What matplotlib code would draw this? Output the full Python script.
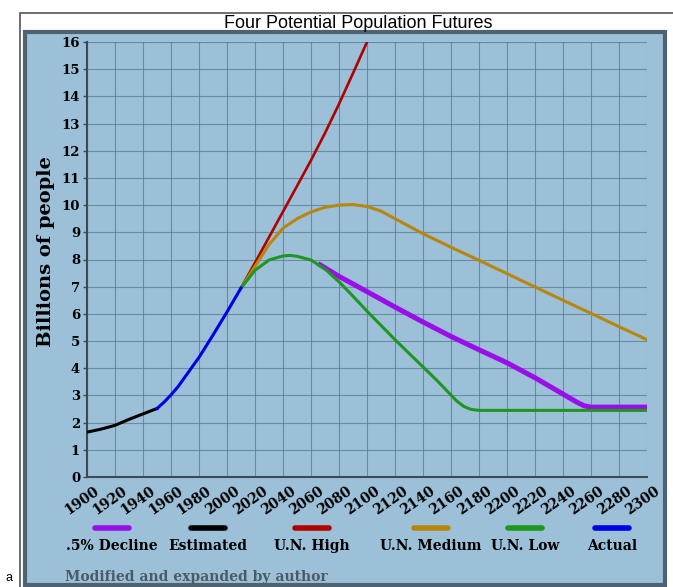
import matplotlib
matplotlib.use("Agg")
import matplotlib.pyplot as plt
from matplotlib.patches import Rectangle
from matplotlib.lines import Line2D
from matplotlib.transforms import ScaledTranslation

# Estimated (black)
est_years = [1900, 1910, 1920, 1930, 1940, 1950]
est_vals = [1.65, 1.76, 1.90, 2.12, 2.32, 2.52]

# Actual (blue)
act_years = [1950, 1955, 1960, 1965, 1970, 1980, 1990, 2000, 2010]
act_vals = [2.52, 2.75, 3.02, 3.32, 3.68, 4.40, 5.22, 6.07, 6.95]

# U.N. High (red)
high_years = [2010, 2020, 2030, 2040, 2050, 2060, 2070, 2080, 2090, 2100, 2110]
high_vals = [6.95, 7.88, 8.82, 9.76, 10.70, 11.65, 12.65, 13.72, 14.85, 16.00, 17.20]

# U.N. Medium (gold)
med_years = [2010, 2020, 2030, 2040, 2050, 2060, 2070, 2080, 2090, 2100, 2110,
             2120, 2140, 2160, 2180, 2200, 2220, 2240, 2260, 2280, 2300]
med_vals = [6.95, 7.75, 8.55, 9.15, 9.50, 9.75, 9.92, 10.00, 10.02, 9.95, 9.78,
            9.50, 8.95, 8.45, 7.97, 7.48, 6.99, 6.50, 6.02, 5.53, 5.05]

# U.N. Low (green)
low_years = [2010, 2020, 2030, 2040, 2045, 2050, 2060, 2070, 2080, 2090, 2100,
             2120, 2140, 2150, 2158, 2164, 2169, 2174, 2180, 2300]
low_vals = [6.95, 7.60, 7.98, 8.13, 8.15, 8.12, 7.98, 7.65, 7.18, 6.65, 6.10,
            5.05, 4.05, 3.55, 3.12, 2.80, 2.60, 2.49, 2.45, 2.45]

# .5% Decline (purple)
dec_years = [2065, 2080, 2100, 2120, 2140, 2160, 2180, 2200, 2220, 2240, 2250, 2255, 2260, 2300]
dec_vals = [7.85, 7.38, 6.82, 6.25, 5.70, 5.17, 4.68, 4.20, 3.65, 3.05, 2.75, 2.62, 2.57, 2.57]

legend_names = [".5% Decline", "Estimated", "U.N. High", "U.N. Medium", "U.N. Low", "Actual"]
legend_colors = ["#9a0ee8", "#000000", "#b00000", "#b8860b", "#1f961f", "#0000e6"]
legend_x = [112, 208, 312, 431, 525, 612]  # pixel centres

W, H = 673, 587
fig = plt.figure(figsize=(W / 100, H / 100), dpi=100)
fig.patch.set_facecolor("white")

# outer frame and blue panel (behind the axes)
fig.patches.append(Rectangle((20 / W, -0.1), 1.2, 1.1 - 13 / H, transform=fig.transFigure,
                             fill=False, edgecolor="#555555", lw=1.2, zorder=-3))
fig.patches.append(Rectangle((25 / W, 2 / H), 640 / W, (585 - 32) / H, transform=fig.transFigure,
                             facecolor="#9bc0d8", edgecolor="#4e626f", lw=3, zorder=-2))

ax = fig.add_axes([87 / W, (H - 477) / H, 560 / W, 435 / H])
ax.patch.set_alpha(0)

ax.plot(dec_years, dec_vals, color=legend_colors[0], lw=3.6, solid_capstyle="butt", zorder=3)
ax.plot(est_years, est_vals, color=legend_colors[1], lw=2.2, zorder=4)
ax.plot(high_years, high_vals, color=legend_colors[2], lw=1.9, zorder=4)
ax.plot(med_years, med_vals, color=legend_colors[3], lw=2.2, zorder=4)
ax.plot(low_years, low_vals, color=legend_colors[4], lw=2.2, zorder=4)
ax.plot(act_years, act_vals, color=legend_colors[5], lw=2.2, zorder=5)

ax.set_xlim(1900, 2300)
ax.set_ylim(0, 16)
ax.set_xticks(range(1900, 2301, 20))
ax.set_yticks(range(0, 17))
ax.grid(True, color="#56778c", lw=0.8, alpha=0.7)
ax.set_axisbelow(True)
for s in ["top", "right"]:
    ax.spines[s].set_visible(False)
for s in ["left", "bottom"]:
    ax.spines[s].set_color("#3d4a52")
    ax.spines[s].set_linewidth(1.5)
ax.tick_params(axis="y", length=3, width=1, color="#3d4a52", pad=2)
ax.tick_params(axis="x", length=0, pad=5)

for lab in ax.get_yticklabels():
    lab.set_fontfamily("DejaVu Serif")
    lab.set_fontweight("bold")
    lab.set_fontsize(9.5)
for lab in ax.get_xticklabels():
    lab.set_fontfamily("DejaVu Serif")
    lab.set_fontweight("bold")
    lab.set_fontsize(10)
    lab.set_rotation(35)
    lab.set_rotation_mode("anchor")
    lab.set_ha("right")
    lab.set_va("top")
    lab.set_transform(lab.get_transform() + ScaledTranslation(5 / 72, 0, fig.dpi_scale_trans))

fig.text(0.533, 1 - 24 / H, "Four Potential Population Futures", family="Liberation Sans",
         fontsize=13, ha="center", va="center", zorder=5)
fig.text(46 / W, 1 - 252 / H, "Billions of people", family="DejaVu Serif", fontweight="bold",
         fontsize=14, rotation=90, ha="center", va="center")

for name, col, px in zip(legend_names, legend_colors, legend_x):
    fig.add_artist(Line2D([(px - 17) / W, (px + 17) / W], [1 - 528 / H, 1 - 528 / H],
                          transform=fig.transFigure, color=col, lw=4, solid_capstyle="round"))
    fig.text(px / W, 1 - 546 / H, name, family="DejaVu Serif", fontweight="bold",
             fontsize=10, ha="center", va="center")

fig.text(65 / W, 1 - 577 / H, "Modified and expanded by author", family="DejaVu Serif",
         fontweight="bold", fontsize=10, color="#4d5a63", ha="left", va="center")
fig.text(5 / W, 1 - 578 / H, "a", family="Liberation Sans", fontsize=9, ha="left", va="center")

fig.savefig("out.png", dpi=100)
